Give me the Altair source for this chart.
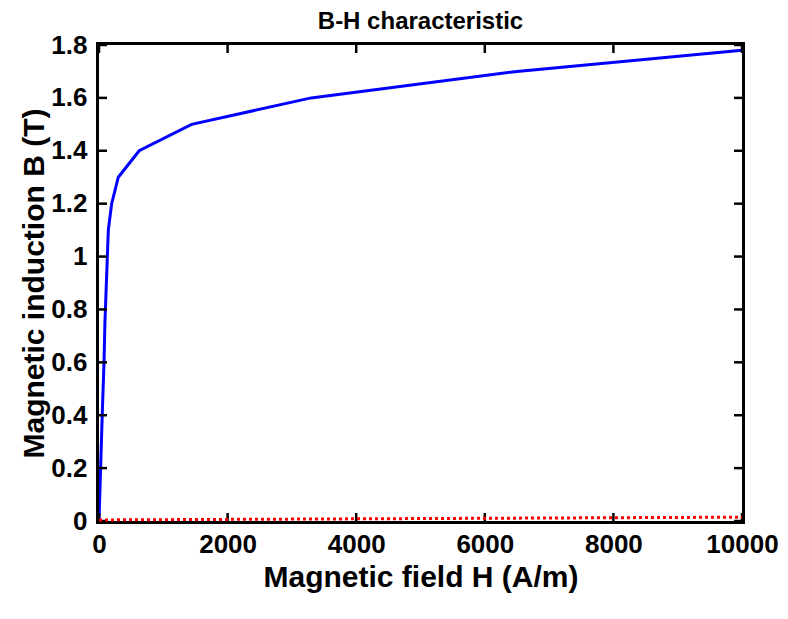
import altair as alt
import pandas as pd

# Measured B-H curve (blue) and air line (red dotted)
H_curve = [0, 25, 50, 78, 92, 145, 197, 300, 625, 1440, 3300, 6500, 10000]
B_curve = [0, 0.2, 0.4, 0.6, 0.75, 1.1, 1.2, 1.3, 1.4, 1.5, 1.6, 1.7, 1.78]
H_air = [0, 10000]
B_air = [0.004, 0.0145]

x_ticks = [0, 2000, 4000, 6000, 8000, 10000]
y_ticks = [0, 0.2, 0.4, 0.6, 0.8, 1.0, 1.2, 1.4, 1.6, 1.8]

title_text = "B-H characteristic"
x_title = "Magnetic field H (A/m)"
y_title = "Magnetic induction B (T)"

W, HT = 643, 476
FONT = "Liberation Sans"
TICK = 8
FRAME = 3

xs = alt.Scale(domain=[0, 10000], nice=False, zero=False)
ys = alt.Scale(domain=[0, 1.8], nice=False, zero=False)

df_curve = pd.DataFrame({"H": H_curve, "B": B_curve})
df_air = pd.DataFrame({"H": H_air, "B": B_air})
df_xt = pd.DataFrame({"H": x_ticks})
df_yt = pd.DataFrame({"B": y_ticks})
df_title = pd.DataFrame({"t": [title_text]})

x_axis = alt.Axis(
    values=x_ticks, format="d", title=x_title, grid=False, domain=False, ticks=False,
    labelFont=FONT, labelFontSize=26, labelFontWeight="bold", labelColor="black",
    labelPadding=10, labelFlush=False, labelOverlap=False,
    titleFont=FONT, titleFontSize=30, titleFontWeight="bold", titleColor="black",
    titleBaseline="alphabetic", titleY=65,
)
y_axis = alt.Axis(
    values=y_ticks, format=".1~f", title=y_title, grid=False, domain=False, ticks=False,
    labelFont=FONT, labelFontSize=26, labelFontWeight="bold", labelColor="black",
    labelPadding=12, labelFlush=False, labelOverlap=False,
    titleFont=FONT, titleFontSize=30, titleFontWeight="bold", titleColor="black",
    titleBaseline="alphabetic", titleX=-56,
)

# axes box drawn just outside the data rectangle (MATLAB style)
frame = alt.Chart(df_title).mark_rect(
    fillOpacity=0, stroke="black", strokeWidth=FRAME
).encode(
    x=alt.value(-FRAME / 2), x2=alt.value(W + FRAME / 2),
    y=alt.value(-FRAME / 2), y2=alt.value(HT + FRAME / 2),
)

curve = alt.Chart(df_curve).mark_line(color="#0000ff", strokeWidth=3).encode(
    x=alt.X("H:Q", scale=xs, axis=x_axis),
    y=alt.Y("B:Q", scale=ys, axis=y_axis),
)

tick_style = dict(color="black", strokeWidth=2.5)
bottom_ticks = alt.Chart(df_xt).mark_rule(**tick_style).encode(
    x=alt.X("H:Q", scale=xs), y=alt.value(HT), y2=alt.value(HT - TICK))
top_ticks = alt.Chart(df_xt).mark_rule(**tick_style).encode(
    x=alt.X("H:Q", scale=xs), y=alt.value(0), y2=alt.value(TICK))
left_ticks = alt.Chart(df_yt).mark_rule(**tick_style).encode(
    y=alt.Y("B:Q", scale=ys), x=alt.value(0), x2=alt.value(TICK))
right_ticks = alt.Chart(df_yt).mark_rule(**tick_style).encode(
    y=alt.Y("B:Q", scale=ys), x=alt.value(W), x2=alt.value(W - TICK))

air = alt.Chart(df_air).mark_line(color="#ff0000", strokeWidth=3, strokeDash=[3, 3]).encode(
    x=alt.X("H:Q", scale=xs),
    y=alt.Y("B:Q", scale=ys),
)

title_mark = alt.Chart(df_title).mark_text(
    font=FONT, fontWeight="bold", color="black",
    align="center", baseline="alphabetic",
).encode(text="t:N", x=alt.value(W / 2), y=alt.value(-16), size=alt.value(24))

chart = alt.layer(curve, frame, bottom_ticks, top_ticks, left_ticks, right_ticks, air, title_mark).properties(
    width=W, height=HT,
    autosize=alt.AutoSizeParams(type="none"),
    padding={"left": 91, "top": 37, "right": 38, "bottom": 84},
).configure_view(strokeWidth=0)

chart.save("out.html", embed_options={"renderer": "svg", "actions": False})
